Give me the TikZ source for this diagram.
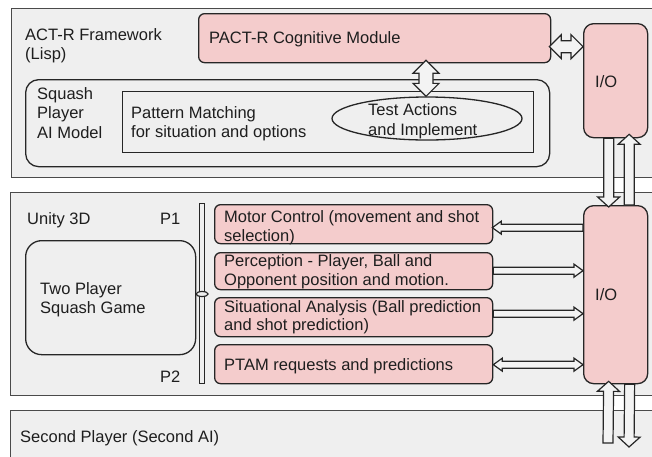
\documentclass[tikz,border=0pt]{standalone}
\usepackage{fontspec}
\setmainfont{Liberation Sans}
\usetikzlibrary{calc,shapes.geometric}
\definecolor{panelgray}{HTML}{EFEFEF}
\definecolor{pinkfill}{HTML}{F4CCCC}
\definecolor{edgecol}{HTML}{262626}
\definecolor{panedge}{HTML}{4A4A4A}
\definecolor{textcol}{HTML}{1E1E1E}
\definecolor{arrfill}{HTML}{F3F3F3}
% single-headed block arrow: from, to, shaft half, head half, head length
\newcommand\sarr[5]{%
  \coordinate (qa) at (#1); \coordinate (qb) at (#2);
  \coordinate (qn) at ($(qb)!#5!(qa)$);
  \draw[blockarrow] ($(qa)!#3!90:(qb)$) -- ($(qn)!#3!90:(qb)$) -- ($(qn)!#4!90:(qb)$) -- (qb)
    -- ($(qn)!#4!-90:(qb)$) -- ($(qn)!#3!-90:(qb)$) -- ($(qa)!#3!-90:(qb)$) -- cycle;}
% double-headed block arrow
\newcommand\darr[5]{%
  \coordinate (qa) at (#1); \coordinate (qb) at (#2);
  \coordinate (qn) at ($(qb)!#5!(qa)$);
  \coordinate (qm) at ($(qa)!#5!(qb)$);
  \draw[blockarrow] ($(qm)!#3!90:(qb)$) -- ($(qn)!#3!90:(qb)$) -- ($(qn)!#4!90:(qb)$) -- (qb)
    -- ($(qn)!#4!-90:(qb)$) -- ($(qn)!#3!-90:(qb)$) -- ($(qm)!#3!-90:(qb)$) -- ($(qm)!#4!-90:(qb)$)
    -- (qa) -- ($(qm)!#4!90:(qb)$) -- cycle;}
\tikzset{
  panel/.style={draw=panedge, fill=panelgray, line width=1.3pt, inner sep=0, anchor=north west},
  pinkbox/.style={draw=edgecol, fill=pinkfill, line width=1.3pt, rounded corners=6pt, inner sep=0, anchor=north west},
  plainbox/.style={draw=edgecol, line width=1.3pt, inner sep=0, anchor=north west},
  blockarrow/.style={draw=edgecol, fill=arrfill, line width=1.2pt, line join=miter},
  lbl/.style={text=textcol, font=\fontsize{16.5}{19.5}\selectfont, inner sep=0, anchor=base west},
}
\begin{document}
\begin{tikzpicture}[x=1pt, y=-1pt]
\useasboundingbox (0,0) rectangle (652,456);
\clip (0,0) rectangle (652,456);
\fill[white] (0,0) rectangle (652,456);
% panels
\node[panel, minimum width=660pt, minimum height=169pt] (act) at (11,8) {};
\node[panel, minimum width=660pt, minimum height=203pt] (unity) at (10,192) {};
\node[panel, minimum width=660pt, minimum height=70pt] (second) at (10,410) {};
% ACT-R panel
\node[lbl] (t1) at (25,40) {ACT-R Framework};
\node[lbl] (t2) at (25,59.5) {(Lisp)};
\node[pinkbox, minimum width=352pt, minimum height=49pt] (pact) at (198,13) {};
\node[lbl] (t3) at (209,43) {PACT-R Cognitive Module};
\node[pinkbox, rounded corners=10pt, minimum width=64pt, minimum height=114pt] (io1) at (583,23) {};
\node[lbl] (t4) at (595,87) {I/O};
\node[plainbox, rounded corners=13pt, minimum width=524pt, minimum height=87pt] (ai) at (25,79) {};
\node[lbl] (t5) at (37,99) {Squash};
\node[lbl] (t6) at (37,118.5) {Player};
\node[lbl] (t7) at (37,138) {AI Model};
\node[plainbox, minimum width=411pt, minimum height=61pt] (pm) at (122,91) {};
\node[lbl] (t8) at (131,118.5) {Pattern Matching};
\node[lbl] (t9) at (131,137.5) {for situation and options};
\node[draw=edgecol, line width=1.3pt, ellipse, minimum width=190pt, minimum height=43pt, inner sep=0] (ell) at (427,118.5) {};
\node[lbl] (t10) at (368,115) {Test Actions};
\node[lbl] (t11) at (368,135) {and Implement};
% Unity panel
\node[lbl] (u1) at (27,224) {Unity 3D};
\node[lbl] (u2) at (160,224) {P1};
\node[lbl] (u3) at (160,382) {P2};
\node[plainbox, rounded corners=16pt, minimum width=170pt, minimum height=114pt] (game) at (25,240) {};
\node[lbl] (u4) at (40,294) {Two Player};
\node[lbl] (u5) at (40,313.5) {Squash Game};
\node[draw=edgecol, fill=panelgray, line width=1.2pt, inner sep=0, minimum width=5pt, minimum height=180pt, anchor=north west] (bar) at (199,203) {};
\node[draw=edgecol, fill=panelgray, line width=1.2pt, ellipse, inner sep=0, minimum width=12pt, minimum height=5pt] (knob) at (bar.center |- 0,294) {};
\node[pinkbox, minimum width=278pt, minimum height=39pt] (m1) at (214,204) {};
\node[lbl] (b1) at (224,222) {Motor Control (movement and shot};
\node[lbl] (b2) at (224,241) {selection)};
\node[pinkbox, minimum width=278pt, minimum height=37pt] (m2) at (214,252) {};
\node[lbl] (b3) at (224,266.5) {Perception - Player, Ball and};
\node[lbl] (b4) at (224,285) {Opponent position and motion.};
\node[pinkbox, minimum width=278pt, minimum height=39pt] (m3) at (214,297) {};
\node[lbl] (b5) at (224,312) {Situational Analysis (Ball prediction};
\node[lbl] (b6) at (224,330.5) {and shot prediction)};
\node[pinkbox, minimum width=278pt, minimum height=39pt] (m4) at (214,344) {};
\node[lbl] (b7) at (224,370) {PTAM requests and predictions};
\node[pinkbox, rounded corners=10pt, minimum width=64pt, minimum height=178pt] (io2) at (583,205) {};
\node[lbl] (b8) at (595,300) {I/O};
% Second panel
\node[lbl] (s1) at (20,442) {Second Player (Second AI)};
% connectors
\coordinate (pe) at ($(pact.east)+(-2,8.5)$);
\darr{pe}{io1.west |- pe}{6pt}{12pt}{12pt}
\coordinate (ps) at ($(ell.north |- pact.south)+(-1,-3)$);
\darr{ps}{ell.north -| ps}{7pt}{13pt}{13pt}
\coordinate (d1) at ($(io1.south)+(-7,0)$);
\sarr{d1}{$(io2.north)+(-7,2)$}{5pt}{11pt}{10pt}
\coordinate (u1s) at ($(io2.north)+(13.5,0)$);
\sarr{u1s}{$(io1.south)+(13.5,-4)$}{5pt}{11pt}{10pt}
\coordinate (lowup) at (608,443);
\sarr{lowup}{$(io2.south)+(-7,-3)$}{5pt}{11pt}{10pt}
\coordinate (lowdown) at (629,447);
\sarr{$(io2.south)+(14,0)$}{lowdown}{5pt}{11pt}{10pt}
\coordinate (a1) at ($(m1.east)+(-1,3.5)$);
\sarr{io2.west |- a1}{a1}{3.5pt}{6.5pt}{9pt}
\coordinate (a2) at ($(m2.east)+(0,-0.5)$);
\sarr{a2}{io2.west |- a2}{3.5pt}{6.5pt}{9pt}
\coordinate (a3) at ($(m3.east)+(0,-3.5)$);
\sarr{a3}{io2.west |- a3}{3.5pt}{6.5pt}{9pt}
\coordinate (a4) at ($(m4.east)+(0,0.5)$);
\darr{a4}{io2.west |- a4}{3.5pt}{6.5pt}{9pt}
\end{tikzpicture}
\end{document}
